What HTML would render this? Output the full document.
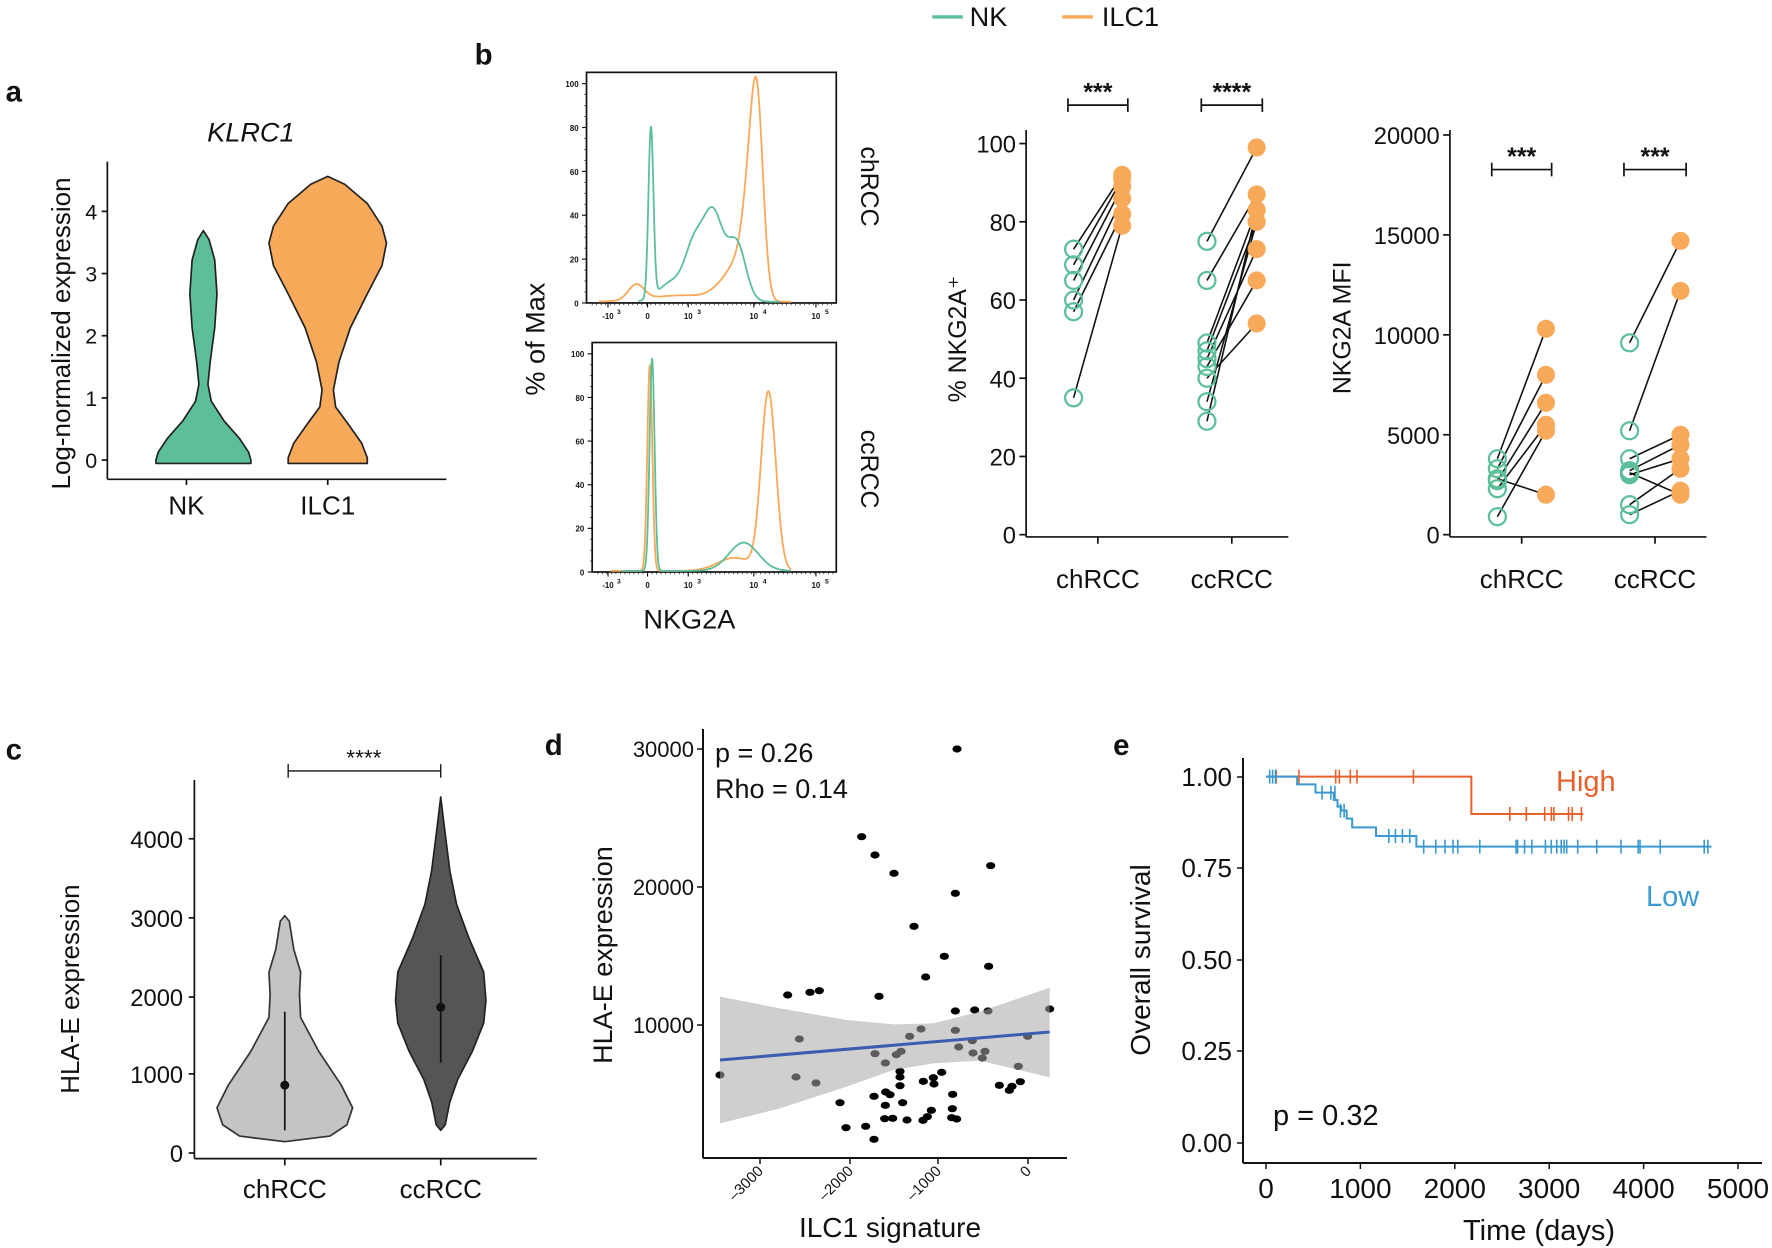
<!DOCTYPE html>
<html><head><meta charset="utf-8"><style>
html,body{margin:0;padding:0;background:#fff;}
svg{display:block;font-family:"Liberation Sans",Arial,sans-serif;}
</style></head><body>
<svg id="s" width="1772" height="1248" viewBox="0 0 1772 1248" xmlns="http://www.w3.org/2000/svg">
<g id="disp" transform="scale(1.1301,1.1304)"></g>
<g id="real"></g>
</svg>
<script>
const G='#5DBF9A',O='#F9A95A';
let D='',R='';
function t(x,y,s,txt,opt){opt=opt||{};return `<text x="${x}" y="${y}" font-size="${s}" ${opt.a?`text-anchor="${opt.a}"`:''} ${opt.w?`font-weight="${opt.w}"`:''} ${opt.st?`font-style="${opt.st}"`:''} fill="${opt.f||'#111'}" ${opt.tr?`transform="${opt.tr}"`:''}>${txt}</text>`;}
function L(x1,y1,x2,y2,c,w){return `<line x1="${x1}" y1="${y1}" x2="${x2}" y2="${y2}" stroke="${c||'#111'}" stroke-width="${w||1.5}"/>`;}
function violin(cx,prof,fill,stroke){let l=prof.map(p=>`${cx-p[1]},${p[0]}`),r=prof.slice().reverse().map(p=>`${cx+p[1]},${p[0]}`);return `<polygon points="${l.concat(r).join(' ')}" fill="${fill}" stroke="${stroke||'#222'}" stroke-width="1.5" stroke-linejoin="round"/>`;}
D+=L(825,15,852,15,G,3)+t(858,23,24,'NK')+L(940,15,967,15,O,3)+t(975,23,24,'ILC1');
D+=t(5,90,26,'a',{w:'bold'})+t(420,57,26,'b',{w:'bold'})+t(5,672,26,'c',{w:'bold'})+t(482,668,26,'d',{w:'bold'})+t(985,668,26,'e',{w:'bold'});
D+=t(222,125,24,'KLRC1',{a:'middle',st:'italic'});
D+=L(95,143,95,424)+L(95,424,395,424);
[[0,407],[1,352],[2,297],[3,242],[4,187]].forEach(([v,y])=>{D+=L(90,y,95,y)+t(86,y+7,19,v,{a:'end'});});
D+=t(62,295,23,'Log-normalized expression',{a:'middle',tr:'rotate(-90 62 295)'});
D+=L(165,424,165,429)+L(290,424,290,429)+t(165,455,23,'NK',{a:'middle'})+t(290,455,23,'ILC1',{a:'middle'});
D+=violin(180,[[204,0],[212,5],[230,10],[260,12],[290,10],[320,6],[340,4],[355,7],[372,18],[388,32],[400,40],[407,42],[410,42]],G);
D+=violin(290,[[156,0],[163,15],[180,35],[200,48],[215,52],[235,48],[260,35],[290,20],[320,10],[345,5],[360,7],[375,18],[392,30],[405,35],[410,35]],O);
function g(x,m,s){return Math.exp(-0.5*((x-m)/s)**2);}
function hist(x0,x1,y0,sc,f,c){let p=[];for(let x=x0;x<=x1;x+=0.5){let v=f(x);p.push(`${x},${(y0-v*sc).toFixed(1)}`);}return `<polyline points="${p.join(' ')}" fill="none" stroke="${c}" stroke-width="1.6"/>`;}
function histAxes(x0,yt,y0,y100){let s=`<rect x="${x0}" y="${yt}" width="${740-x0}" height="${y0-yt}" fill="none" stroke="#111" stroke-width="1.5"/>`;
for(let v=0;v<=100;v+=20){let y=y0-(y0-y100)*v/100;s+=L(x0-4,y,x0,y,'#111',1)+t(x0-7,y+3,7,v,{a:'end',w:'bold'});}
for(let v=0;v<=100;v+=5){let y=y0-(y0-y100)*v/100;s+=L(x0-2,y,x0,y,'#111',0.6);}
[[538,'-10'],[573,'0'],[609,'10'],[667,'10'],[722,'10']].forEach(([x,l],i)=>{s+=L(x,y0,x,y0+4,'#111',1)+t(x,y0+14,7,l,{a:'middle',w:'bold'});if(l=='10'||l=='-10')s+=t(x+8,y0+10,6,['3','3','3','4','5'][i],{w:'bold'});});
for(let x=x0+5;x<740;x+=4)s+=L(x,y0,x,y0+2,'#111',0.6);return s;}
D+=histAxes(519,64,268,74);
D+=hist(530,700,267,1.93,x=>7*g(x,563,7)+3*g(x,605,30)+6*g(x,640,10)+12*g(x,652,8)+35*g(x,662,6)+85*g(x,670,5.5),O);
D+=hist(565,690,267,1.93,x=>78*g(x,576,2.2)+9*g(x,595,12)+22*g(x,614,8)+40*g(x,631,9)+26*g(x,652,8),G);
D+=histAxes(524,303,506,313);
D+=hist(540,700,505,1.92,x=>95*g(x,575,2.2)+6*g(x,650,15)+82*g(x,680,6.5),O);
D+=hist(550,700,505,1.92,x=>98*g(x,577,2.2)+13*g(x,658,13),G);
D+=t(762,165,22,'chRCC',{a:'middle',tr:'rotate(90 762 165)'})+t(762,415,22,'ccRCC',{a:'middle',tr:'rotate(90 762 415)'});
D+=t(482,300,24,'% of Max',{a:'middle',tr:'rotate(-90 482 300)'})+t(610,556,24,'NKG2A',{a:'middle'});
function dots(ax,x1,ymap,ticks,pos,data,stars){let s=L(ax,115,ax,475)+L(ax,475,x1,475);
ticks.forEach(v=>{let y=ymap(v);s+=L(ax-6,y,ax,y)+t(ax-9,y+8,21,v,{a:'end'});});
pos.forEach((p,i)=>{s+=L((p[0]+p[1])/2,475,(p[0]+p[1])/2,481);
let a=data[i][0],b=data[i][1];for(let k=0;k<Math.max(a.length,b.length);k++){let va=a[Math.min(k,a.length-1)],vb=b[Math.min(k,b.length-1)];s+=L(p[0],ymap(va),p[1],ymap(vb),'#111',1.4);}
b.forEach(v=>s+=`<circle cx="${p[1]}" cy="${ymap(v)}" r="8" fill="${O}"/>`);
a.forEach(v=>s+=`<circle cx="${p[0]}" cy="${ymap(v)}" r="7.5" fill="none" stroke="${G}" stroke-width="2"/>`);
let y=stars[0],cx=(p[0]+p[1])/2;s+=L(p[0]-5,y,p[1]+5,y)+L(p[0]-5,y-6,p[0]-5,y+6)+L(p[1]+5,y-6,p[1]+5,y+6)+t(cx,y-4,22,stars[1][i],{a:'middle',w:'bold'});
s+=t(cx,520,23,['chRCC','ccRCC'][i],{a:'middle'});});return s;}
D+=dots(908,1140,v=>473-v*3.46,[0,20,40,60,80,100],[[950,993],[1068,1112]],
[[[73,69,65,60,57,35],[92,91,89,86,82,79]],[[75,65,49,47,45,43,40,34,29],[99,87,83,80,73,65,54,80,83]]],[93,['***','****']]);
D+=t(855,300,22,'% NKG2A⁺',{a:'middle',tr:'rotate(-90 855 300)'});
D+=dots(1283,1510,v=>473-v*0.01768,[0,5000,10000,15000,20000],[[1325,1368],[1442,1487]],
[[[3800,3300,2700,2300,900,2800],[10300,8000,6600,5500,5200,2000]],[[9600,5200,3800,3200,3000,1500,1000,3100],[14700,12200,5000,4500,3800,3300,2200,2000]]],[150,['***','***']]);
D+=t(1195,290,22,'NKG2A MFI',{a:'middle',tr:'rotate(-90 1195 290)'});
D+=L(172,690,172,1025)+L(172,1025,475,1025);
[[0,1020],[1000,950],[2000,882],[3000,812],[4000,742]].forEach(([v,y])=>{D+=L(167,y,172,y)+t(162,y+8,21,v,{a:'end'});});
D+=t(70,875,23,'HLA-E expression',{a:'middle',tr:'rotate(-90 70 875)'});
D+=L(252,1025,252,1031)+L(390,1025,390,1031)+t(252,1060,23,'chRCC',{a:'middle'})+t(390,1060,23,'ccRCC',{a:'middle'});
D+=L(255,682,390,682,'#111',1.2)+L(255,676,255,688,'#111',1.2)+L(390,676,390,688,'#111',1.2)+t(322,677,20,'****',{a:'middle'});
D+=violin(252,[[810,0],[815,4],[840,8],[860,14],[880,13],[900,14],[930,30],[960,50],[980,60],[995,55],[1005,40],[1010,0]],'#C4C4C4','#333');
D+=violin(390,[[705,0],[730,3],[770,8],[800,14],[830,25],[860,38],[885,40],[905,38],[930,28],[955,15],[975,8],[995,4],[1000,0]],'#555','#222');
D+=L(252,895,252,1000,'#111',1.5)+`<circle cx="252" cy="960" r="4" fill="#111"/>`;
D+=L(390,845,390,940,'#111',1.5)+`<circle cx="390" cy="891" r="4" fill="#111"/>`;
document.getElementById('disp').innerHTML=D;
const z4=(x,y)=>[680+x/3,830+y/3];
const pts=[[545,20],[585,75],[642,130],[932,107],[826,190],[702,289],[793,379],[926,409],[737,441],[323,495],[390,487],[418,482],[597,499],[826,543],[884,540],[924,543],[1109,537],[723,597],[826,601],[689,619],[358,627],[1043,619],[877,632],[836,651],[585,671],[649,674],[663,664],[879,669],[915,664],[907,684],[616,699],[1015,709],[120,735],[348,741],[408,759],[660,724],[660,741],[785,727],[730,754],[760,743],[762,762],[660,767],[1021,755],[958,766],[996,769],[988,781],[582,799],[617,786],[630,794],[818,793],[480,818],[616,826],[668,818],[817,836],[754,841],[742,860],[614,866],[638,865],[681,870],[729,871],[815,863],[830,867],[498,893],[557,889],[582,928]];
pts.forEach(p=>{let [x,y]=z4(p[0],p[1]);R+=`<ellipse cx="${x}" cy="${y}" rx="4.6" ry="3.6" fill="#000"/>`;});
R+=`<ellipse cx="957" cy="749" rx="4.6" ry="3.6" fill="#000"/>`;
let up=[[120,500],[300,535],[500,570],[640,583],[760,580],[900,545],[1109,473]],lo=[[1109,742],[900,692],[760,700],[640,720],[500,770],[300,835],[120,880]];
R+=`<polygon points="${up.concat(lo).map(p=>z4(p[0],p[1]).join(',')).join(' ')}" fill="#A8A8A8" fill-opacity="0.55"/>`;
let a1=z4(120,690),a2=z4(1109,606);R+=L(a1[0],a1[1],a2[0],a2[1],'#3A5DB0',3);
R+=L(703,729,703,1158,'#111',2)+L(703,1158,1067,1158,'#111',2);
[[30000,749],[20000,887],[10000,1025]].forEach(([v,y])=>{R+=L(697,y,703,y,'#111',1.5)+t(694,y+8,22,v,{a:'end'});});
[[-3000,760],[-2000,850],[-1000,938],[0,1028]].forEach(([v,x])=>{R+=L(x,1158,x,1164,'#111',1.5)+t(x+4,1172,15,v==0?'0':'–'+(-v),{a:'end',tr:`rotate(-45 ${x+4} 1172)`});});
R+=t(890,1237,28,'ILC1 signature',{a:'middle'})+t(612,955,27,'HLA-E expression',{a:'middle',tr:'rotate(-90 612 955)'});
R+=t(715,762,27,'p = 0.26')+t(715,798,27,'Rho = 0.14');
// panel e
const z3=(x,y)=>[1266+(x-180)*0.3667,740+y/3];
function km(steps,ticks,c){let p=steps.map(q=>z3(q[0],q[1]).join(','));let s=`<polyline points="${p.join(' ')}" fill="none" stroke="${c}" stroke-width="2"/>`;
ticks.forEach(([x,y])=>{let [a,b]=z3(x,y);s+=L(a,b-7,a,b+7,c,1.6);});return s;}
R+=km([[180,110],[740,110],[740,222],[1045,222]],[208,270,370,380,410,428,582].map(x=>[x,110]).concat([845,890,940,958,965,1005,1015,1040].map(x=>[x,222])),'#E8602C');
R+=km([[180,110],[265,110],[265,133],[315,133],[315,158],[365,158],[365,180],[375,180],[375,200],[385,200],[385,212],[400,212],[400,236],[415,236],[415,262],[480,262],[480,288],[590,288],[590,320],[1395,320]],
[190,198,206].map(x=>[x,110]).concat([333,357,368].map(x=>[x,158]),[[383,212],[393,212]],[515,533,552,572].map(x=>[x,288]),[610,643,668,690,703,763,862,866,885,905,942,958,973,985,993,1000,1030,1082,1148,1195,1200,1255,1375,1385].map(x=>[x,320])),'#3A9AD0');
R+=L(1243,758,1243,1163,'#111',2)+L(1243,1163,1762,1163,'#111',2);
[['1.00',777],['0.75',868],['0.50',960],['0.25',1051],['0.00',1143]].forEach(([v,y])=>{R+=L(1237,y,1243,y,'#111',1.5)+t(1232,y+9,26,v,{a:'end'});});
[0,1000,2000,3000,4000,5000].forEach(v=>{let x=1266+v*0.0944;R+=L(x,1163,x,1169,'#111',1.5)+t(x,1198,28,v,{a:'middle'});});
R+=t(1539,1240,29,'Time (days)',{a:'middle'})+t(1150,960,28,'Overall survival',{a:'middle',tr:'rotate(-90 1150 960)'});
R+=t(1556,791,29,'High',{f:'#E8602C'})+t(1646,906,29,'Low',{f:'#3A9AD0'})+t(1273,1125,29,'p = 0.32');
document.getElementById('real').innerHTML=R;
</script>
</body></html>
